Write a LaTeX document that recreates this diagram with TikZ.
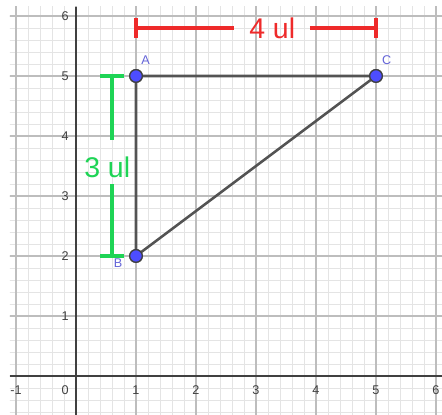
\documentclass[tikz,border=0pt]{standalone}
\usepackage{fontspec}
\setmainfont{Liberation Sans}
\usetikzlibrary{positioning,calc}
\definecolor{gridminor}{HTML}{E4E4E4}
\definecolor{gridmajor}{HTML}{BDBDBD}
\definecolor{axiscol}{HTML}{404040}
\definecolor{ptfill}{HTML}{4D4DFF}
\definecolor{ptlabel}{HTML}{6464D8}
\definecolor{dimred}{HTML}{EE2A2A}
\definecolor{dimgreen}{HTML}{1ED455}

\tikzset{
  pt/.style={circle, draw=axiscol, fill=ptfill, line width=0.6pt, minimum size=0.21cm, inner sep=0pt},
  ptlab/.style={text=ptlabel, font=\fontsize{6}{7}\selectfont, inner sep=0pt},
  ticklab/.style={text=axiscol, font=\fontsize{6}{7}\selectfont, inner sep=0pt},
  tri/.style={draw=axiscol!90, line width=1.2pt},
  dimlab/.style={font=\fontsize{13.5}{15}\selectfont, inner sep=0pt}
}

\begin{document}
\begin{tikzpicture}
  \useasboundingbox (-1.2667,-0.65) rectangle (6.1,6.2667);
  \fill[white] (-1.2667,-0.65) rectangle (6.1,6.2667);

  % Grid
  \begin{scope}
    \clip (-1.1,-0.65) rectangle (6.1,6.15);
    \draw[gridminor, line width=0.4pt, step=0.2] (-1.2,-0.8) grid (6.2,6.2);
    \draw[gridmajor, line width=0.5pt, step=1] (-2,-1) grid (7,7);
    % Axes
    \draw[axiscol, line width=0.7pt] (-1.1,0) -- (6.1,0);
    \draw[axiscol, line width=0.7pt] (0,-0.65) -- (0,6.15);
  \end{scope}

  % Tick labels
  \foreach \x in {-1,1,2,3,4,5,6}
    \node[ticklab] (xt\x) at (\x,-0.23) {\x};
  \node[ticklab] (xt0) at (-0.18,-0.23) {0};
  \foreach \y in {1,...,6}
    \node[ticklab] (yt\y) at (-0.18,\y) {\y};

  % Triangle
  \node[pt] (A) at (1,5) {};
  \node[pt] (B) at (1,2) {};
  \node[pt] (C) at (5,5) {};
  \draw[tri] (A.center) -- (C.center) -- (B.center) -- cycle;
  \node[pt] at (A) {};
  \node[pt] at (B) {};
  \node[pt] at (C) {};
  \node[ptlab] (labA) at (1.16,5.27) {A};
  \node[ptlab] (labB) at (0.7,1.88) {B};
  \node[ptlab] (labC) at (5.18,5.27) {C};

  % 4 ul
  \coordinate (r1) at (1,5.8);
  \coordinate (r2) at (5,5.8);
  \node[dimlab, text=dimred] (four) at (3.27,5.8) {4 ul};
  \draw[dimred, line width=1.9pt] (r1) -- ($(four.west)+(-0.25,0)$);
  \draw[dimred, line width=1.9pt] ($(four.east)+(0.24,0)$) -- (r2);
  \draw[dimred, line width=1.9pt] ($(r1)+(0,0.17)$) -- ($(r1)+(0,-0.17)$);
  \draw[dimred, line width=1.9pt] ($(r2)+(0,0.17)$) -- ($(r2)+(0,-0.17)$);

  % 3 ul
  \coordinate (g1) at (0.6,5);
  \coordinate (g2) at (0.6,2);
  \node[dimlab, text=dimgreen] (three) at (0.52,3.48) {3 ul};
  \draw[dimgreen, line width=1.9pt] (g1) -- ($(three.north)+(0.08,0.28)$);
  \draw[dimgreen, line width=1.9pt] ($(three.south)+(0.08,-0.1)$) -- (g2);
  \draw[dimgreen, line width=1.9pt] ($(g1)+(-0.2,0)$) -- ($(g1)+(0.2,0)$);
  \draw[dimgreen, line width=1.9pt] ($(g2)+(-0.2,0)$) -- ($(g2)+(0.2,0)$);
\end{tikzpicture}
\end{document}
